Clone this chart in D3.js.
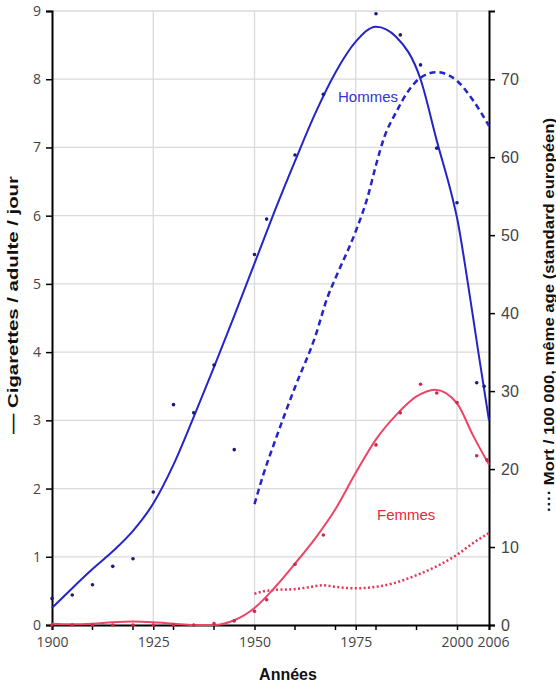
<!DOCTYPE html>
<html lang="fr">
<head>
<meta charset="UTF-8">
<title>Cigarettes et mortalité</title>
<script src="https://cdnjs.cloudflare.com/ajax/libs/d3/7.8.5/d3.min.js"></script>
<style>
  body { margin: 0; background: #fff; }
  svg { display: block; }
</style>
</head>
<body>
<div id="draw-here"></div>
<script>
var w = 556;
var h = 683;

// cigarettes / adulte / jour - courbes lissées
var menCigYears = [1900, 1905, 1910, 1915, 1920, 1925, 1930, 1935, 1940, 1945, 1950, 1955, 1960, 1965, 1970, 1975, 1980, 1985, 1991, 1995, 1999, 2000, 2002, 2004, 2006];
var menCigValues = [0.25, 0.54, 0.82, 1.08, 1.38, 1.78, 2.35, 3.05, 3.78, 4.53, 5.3, 6.07, 6.8, 7.5, 8.1, 8.55, 8.77, 8.62, 8.0, 7.1, 6.23, 5.97, 5.03, 4.0, 3.0];
var womenCigYears = [1900, 1905, 1910, 1915, 1920, 1925, 1930, 1935, 1940, 1945, 1950, 1955, 1960, 1965, 1970, 1975, 1980, 1985, 1990, 1994.6, 2000, 2003, 2006];
var womenCigValues = [0.02, 0.01, 0.02, 0.04, 0.05, 0.04, 0.02, 0, 0, 0.07, 0.25, 0.55, 0.9, 1.27, 1.7, 2.23, 2.72, 3.08, 3.35, 3.45, 3.25, 2.78, 2.35];

// points observés
var menDotYears = [1900, 1905, 1910, 1915, 1920, 1925, 1930, 1935, 1940, 1945, 1950, 1953, 1960, 1967, 1980, 1986, 1991, 1995, 2000, 2003.7, 2005.1];
var menDotValues = [0.39, 0.44, 0.59, 0.86, 0.97, 1.95, 3.23, 3.11, 3.81, 2.57, 5.43, 5.95, 6.89, 7.78, 8.96, 8.65, 8.21, 6.99, 6.19, 3.55, 3.5];
var womenDotYears = [1900, 1905, 1910, 1915, 1920, 1925, 1930, 1935, 1940, 1945, 1950, 1953, 1960, 1967, 1980, 1986, 1991, 1995, 2000, 2003.7, 2005.6];
var womenDotValues = [0, 0, 0, 0, 0, 0, 0, 0, 0.02, 0.06, 0.2, 0.37, 0.89, 1.32, 2.64, 3.11, 3.53, 3.4, 3.26, 2.48, 2.42];

// mortalité / 100 000 (axe de droite)
var menMortYears = [1950, 1952, 1955, 1960, 1965, 1968, 1970, 1975, 1978, 1980, 1982, 1985, 1988, 1991, 1995, 1998, 2000, 2003, 2006];
var menMortValues = [15.5, 19, 23.5, 30.5, 37, 42, 44.5, 50.5, 55, 59, 62.5, 65.8, 68.5, 70.2, 70.9, 70.5, 69.8, 67.3, 64];
var womenMortYears = [1950, 1952, 1955, 1960, 1963, 1967, 1970, 1975, 1980, 1984, 1987, 1991, 1996, 2000, 2003, 2006];
var womenMortValues = [4.0, 4.3, 4.5, 4.6, 4.8, 5.1, 4.9, 4.7, 4.9, 5.3, 5.8, 6.6, 7.8, 9.0, 10.5, 11.8];

// axes
var xLabelYears = [1900, 1925, 1950, 1975, 2000, 2006];
var xMinorYears = [1910, 1920, 1930, 1940, 1960, 1970, 1980, 1990];
var xGridYears = [1925, 1950, 1975, 2000];
var yLeftTicks = [0, 1, 2, 3, 4, 5, 6, 7, 8, 9];
var yRightTicks = [0, 10, 20, 30, 40, 50, 60, 70];

var blue = "#2424c8";
var red = "#ee4466";

var zip = function (xs, ys) {
    return xs.map(function (d, i) { return [d, ys[i]]; });
};

var svg = d3.select("#draw-here")
    .append("svg")
    .attr("width", w)
    .attr("height", h);

// the axis is not uniform: 2000 -> 2006 is stretched in the original
var x = d3.scaleLinear().domain([1900, 2000, 2006]).range([52, 457, 489]);
var yL = d3.scaleLinear().domain([0, 9]).range([625, 11]);
var yR = d3.scaleLinear().domain([0, 78.75]).range([625, 11]);

// grid
svg.append("g")
    .selectAll("line")
    .data(yLeftTicks.slice(1))
    .enter()
    .append("line")
    .attr("x1", x(1900))
    .attr("x2", x(2006))
    .attr("y1", function (d) { return yL(d); })
    .attr("y2", function (d) { return yL(d); })
    .attr("stroke", "#dadada")
    .attr("stroke-width", 1.3);

svg.append("g")
    .selectAll("line")
    .data(xGridYears)
    .enter()
    .append("line")
    .attr("x1", function (d) { return x(d); })
    .attr("x2", function (d) { return x(d); })
    .attr("y1", yL(0))
    .attr("y2", yL(9))
    .attr("stroke", "#dadada")
    .attr("stroke-width", 1.3);

// axes
var leftAxis = svg.append("g")
    .attr("transform", "translate(" + x(1900) + ",0)")
    .call(d3.axisLeft(yL).tickValues(yLeftTicks).tickSize(6).tickPadding(5));
leftAxis.selectAll("text")
    .attr("font-family", "'Open Sans', sans-serif")
    .attr("font-size", "14px")
    .attr("fill", "#444");

var rightAxis = svg.append("g")
    .attr("transform", "translate(" + x(2006) + ",0)")
    .call(d3.axisRight(yR).tickValues(yRightTicks).tickSize(6).tickPadding(6));
rightAxis.selectAll("text")
    .attr("font-family", "'Liberation Sans', Arial, sans-serif")
    .attr("font-size", "16px")
    .attr("fill", "#444");

var bottomAxis = svg.append("g")
    .attr("transform", "translate(0," + yL(0) + ")")
    .call(d3.axisBottom(x).tickValues(xLabelYears).tickFormat(d3.format("d")).tickSize(5).tickPadding(7));
bottomAxis.selectAll("text")
    .attr("font-family", "'Open Sans', sans-serif")
    .attr("font-size", "14px")
    .attr("fill", "#444")
    .attr("dx", function (d) { return d === 2006 ? 4 : 0; });

svg.append("g")
    .selectAll("line")
    .data(xMinorYears)
    .enter()
    .append("line")
    .attr("x1", function (d) { return x(d); })
    .attr("x2", function (d) { return x(d); })
    .attr("y1", yL(0))
    .attr("y2", yL(0) + 5)
    .attr("stroke", "#000")
    .attr("stroke-width", 1.5);

[leftAxis, rightAxis, bottomAxis].forEach(function (a) {
    a.select(".domain").attr("stroke", "#000").attr("stroke-width", 2);
    a.selectAll(".tick line").attr("stroke", "#000").attr("stroke-width", 1.5);
});

// lines
var lineL = d3.line()
    .x(function (d) { return x(d[0]); })
    .y(function (d) { return yL(d[1]); })
    .curve(d3.curveMonotoneX);
var lineR = d3.line()
    .x(function (d) { return x(d[0]); })
    .y(function (d) { return yR(d[1]); })
    .curve(d3.curveMonotoneX);

svg.append("path")
    .attr("d", lineR(zip(womenMortYears, womenMortValues)))
    .attr("fill", "none")
    .attr("stroke", "#e83358")
    .attr("stroke-width", 2.5)
    .attr("stroke-dasharray", "2,2.4");

svg.append("path")
    .attr("d", lineR(zip(menMortYears, menMortValues)))
    .attr("fill", "none")
    .attr("stroke", blue)
    .attr("stroke-width", 2.5)
    .attr("stroke-dasharray", "6,4");

svg.append("path")
    .attr("d", lineL(zip(womenCigYears, womenCigValues)))
    .attr("fill", "none")
    .attr("stroke", red)
    .attr("stroke-width", 2);

svg.append("path")
    .attr("d", lineL(zip(menCigYears, menCigValues)))
    .attr("fill", "none")
    .attr("stroke", blue)
    .attr("stroke-width", 2);

// dots
svg.append("g")
    .selectAll("circle")
    .data(zip(womenDotYears, womenDotValues))
    .enter()
    .append("circle")
    .attr("cx", function (d) { return x(d[0]); })
    .attr("cy", function (d) { return yL(d[1]); })
    .attr("r", 1.8)
    .attr("fill", "#d02848");

svg.append("g")
    .selectAll("circle")
    .data(zip(menDotYears, menDotValues))
    .enter()
    .append("circle")
    .attr("cx", function (d) { return x(d[0]); })
    .attr("cy", function (d) { return yL(d[1]); })
    .attr("r", 1.8)
    .attr("fill", "#1a1a7a");

// series labels
svg.append("text")
    .text("Hommes")
    .attr("x", 338)
    .attr("y", 102)
    .attr("font-family", "'Liberation Sans', Arial, sans-serif")
    .attr("font-size", "15px")
    .attr("fill", "#3434d0");

svg.append("text")
    .text("Femmes")
    .attr("x", 377)
    .attr("y", 520)
    .attr("font-family", "'Liberation Sans', Arial, sans-serif")
    .attr("font-size", "15px")
    .attr("fill", "#e8283c");

// axis titles
svg.append("text")
    .text("Années")
    .attr("x", 288)
    .attr("y", 680)
    .attr("text-anchor", "middle")
    .attr("font-family", "'Liberation Sans', Arial, sans-serif")
    .attr("font-weight", "bold")
    .attr("font-size", "16px")
    .attr("fill", "#111");

svg.append("text")
    .text("— Cigarettes / adulte / jour")
    .attr("transform", "translate(18,305) rotate(-90)")
    .attr("text-anchor", "middle")
    .attr("textLength", 258)
    .attr("lengthAdjust", "spacingAndGlyphs")
    .attr("font-family", "'Liberation Sans', Arial, sans-serif")
    .attr("font-weight", "bold")
    .attr("font-size", "14px")
    .attr("fill", "#111");

svg.append("text")
    .text("···· Mort / 100 000, même age (standard européen)")
    .attr("transform", "translate(554,315) rotate(-90)")
    .attr("text-anchor", "middle")
    .attr("textLength", 394)
    .attr("lengthAdjust", "spacingAndGlyphs")
    .attr("font-family", "'Liberation Sans', Arial, sans-serif")
    .attr("font-weight", "bold")
    .attr("font-size", "14px")
    .attr("fill", "#111");
</script>
</body>
</html>
